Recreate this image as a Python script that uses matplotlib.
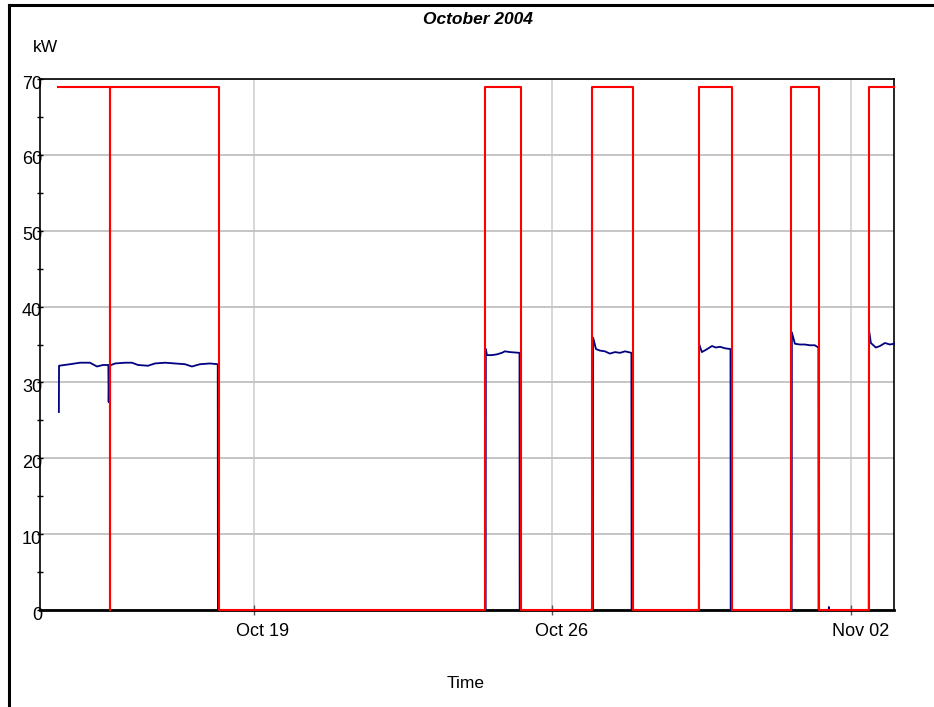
import matplotlib
matplotlib.use('Agg')
import matplotlib.pyplot as plt
import matplotlib.dates as mdates
import matplotlib.transforms as mtransforms
from matplotlib.lines import Line2D
from matplotlib.ticker import MultipleLocator
import numpy as np
import pandas as pd

plt.rcParams['font.family'] = ['Liberation Sans', 'DejaVu Sans']

t0 = pd.Timestamp('2004-10-14 00:00')
t_end = pd.Timestamp('2004-11-03 00:00')

# red trace: on/off periods, sits at 69 kW while on
on_starts = ['2004-10-14 10:07', '2004-10-15 15:31', '2004-10-24 10:05', '2004-10-26 22:26',
             '2004-10-29 10:15', '2004-10-31 14:16', '2004-11-02 09:47']
on_ends = ['2004-10-15 15:29', '2004-10-18 04:36', '2004-10-25 06:15', '2004-10-27 21:07',
           '2004-10-30 04:48', '2004-11-01 05:50', '2004-11-03 00:00']
on_level = 69

# blue trace: measured kW, hours since Oct 14 00:00
blue_hours = [10.6, 10.7, 16.9, 22.5, 28.1, 32.0, 35.4, 38.4, 38.6, 38.9, 42.2, 47.8, 51.7, 55.1,
              60.7, 64.6, 70.3, 75.9, 81.5, 85.4, 89.9, 95.5, 99.9, 100.0,
              250.5, 250.6, 251.2, 254.0, 256.8, 259.6, 261.3, 264.1, 269.5, 269.6,
              310.8, 310.9, 312.5, 314.7, 317.5, 320.3, 323.2, 326.0, 328.8, 332.4, 332.5,
              370.3, 370.4, 372.0, 374.3, 377.7, 379.9, 382.2, 385.0, 388.1, 388.2,
              422.5, 422.6, 424.3, 427.1, 429.9, 432.7, 435.5, 437.5, 437.6,
              443.3, 443.4, 443.5, 465.8, 465.9, 467.0, 469.8, 472.1, 474.9, 477.7, 480.0]
blue_kw = [26.1, 32.2, 32.4, 32.6, 32.6, 32.1, 32.3, 32.3, 27.4, 32.2, 32.5, 32.6, 32.6, 32.3,
           32.2, 32.5, 32.6, 32.5, 32.4, 32.1, 32.4, 32.5, 32.4, 0,
           0, 34.4, 33.6, 33.6, 33.7, 33.9, 34.1, 34.0, 33.9, 0,
           0, 35.9, 34.4, 34.2, 34.1, 33.8, 34.0, 33.9, 34.1, 33.9, 0,
           0, 35.1, 34.0, 34.3, 34.8, 34.6, 34.7, 34.5, 34.4, 0,
           0, 36.6, 35.1, 35.0, 35.0, 34.9, 34.9, 34.6, 0,
           0, 0.4, 0, 0, 37.0, 35.2, 34.6, 34.8, 35.2, 35.0, 35.1]

# build the red step series
red_t = []
red_v = []
for i, (s, e) in enumerate(zip(on_starts, on_ends)):
    s = pd.Timestamp(s)
    e = pd.Timestamp(e)
    if i > 0:
        red_t.append(s)
        red_v.append(0)
    red_t += [s, e]
    red_v += [on_level, on_level]
    if e < t_end:
        red_t.append(e)
        red_v.append(0)

blue_t = [t0 + pd.Timedelta(hours=h) for h in blue_hours]

fig = plt.figure(figsize=(9.34, 7.07), dpi=100)
ax = fig.add_axes([40 / 934, 97 / 707, 854 / 934, 531 / 707])

ax.plot(blue_t, blue_kw, color='#000080', lw=1.3, zorder=3, clip_on=False)
ax.plot(red_t, red_v, color='#ff0000', lw=1.5, zorder=4, clip_on=False)

ax.set_xlim(t0, t_end)
ax.set_ylim(0, 70)
ax.yaxis.set_major_locator(MultipleLocator(10))
ax.yaxis.set_minor_locator(MultipleLocator(5))
xticks = [pd.Timestamp('2004-10-19'), pd.Timestamp('2004-10-26'), pd.Timestamp('2004-11-02')]
ax.set_xticks(xticks)
ax.xaxis.set_major_formatter(mdates.DateFormatter('%b %d'))

ax.set_axisbelow(True)
ax.grid(axis='y', color='#c0c0c0', lw=1.3)
ax.grid(axis='x', color='#d4d4d4', lw=1.3)

for side in ['left', 'top', 'right']:
    ax.spines[side].set_linewidth(1.2)
ax.spines['bottom'].set_linewidth(2)

ax.tick_params(axis='y', which='both', direction='inout', length=5, width=1, color='black',
               labelsize=13, pad=-4)
ax.tick_params(axis='x', direction='inout', length=7, width=1, color='#555555',
               labelsize=13, pad=6)

for lab in ax.get_xticklabels():
    lab.set_transform(lab.get_transform() + mtransforms.ScaledTranslation(0.09, 0, fig.dpi_scale_trans))
for lab in ax.get_yticklabels():
    lab.set_transform(lab.get_transform() + mtransforms.ScaledTranslation(0, -0.03, fig.dpi_scale_trans))

fig.text(478 / 934, 1 - 19 / 707, 'October 2004', ha='center', va='center',
         fontsize=12.5, fontweight='bold', fontstyle='italic')
fig.text(33 / 934, 1 - 48 / 707, 'kW', ha='left', va='center', fontsize=12.5)
fig.text(466 / 934, 1 - 683 / 707, 'Time', ha='center', va='center', fontsize=12.5)

# outer frame (left and top edges visible)
fig.add_artist(Line2D([9 / 934, 9 / 934], [0, 1 - 5 / 707], color='black', lw=2.2))
fig.add_artist(Line2D([9 / 934, 1], [1 - 5 / 707, 1 - 5 / 707], color='black', lw=2.2))

fig.savefig('out.png', dpi=100)
